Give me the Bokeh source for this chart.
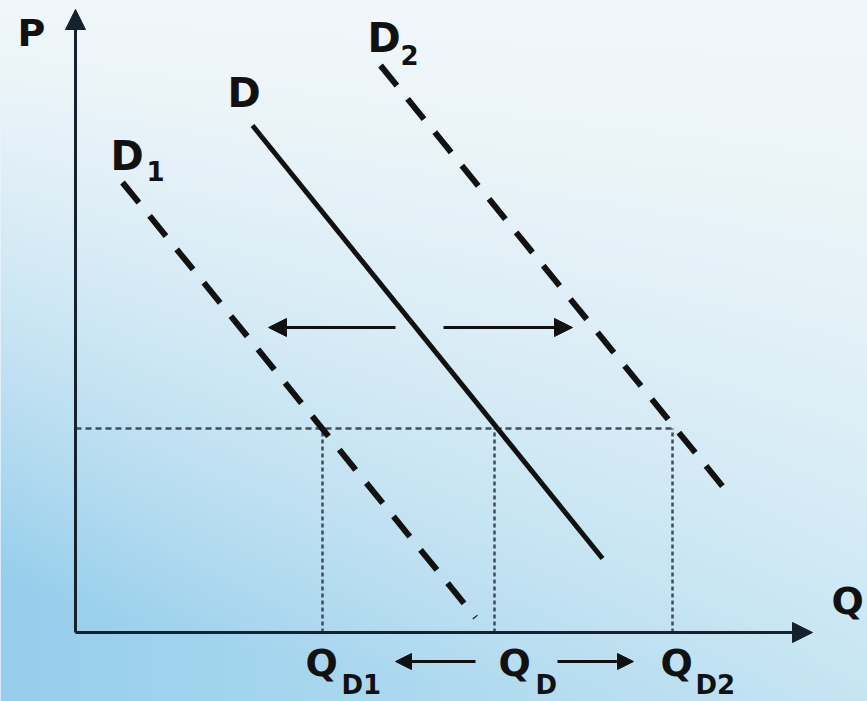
import numpy as np
from bokeh.plotting import figure
from bokeh.models import ColumnDataSource, Arrow, NormalHead, Range1d
from bokeh.core.properties import value
from bokeh.embed import file_html
from bokeh.resources import INLINE

# ---------------- data (arbitrary units) ----------------
P0 = 20.4                        # price level
Q_marks = [24.7, 41.9, 59.7]     # Q_D1, Q_D, Q_D2
D_q = [17.7, 52.7]
D_p = [50.7, 7.4]
D1_q = [4.7, 40.0]
D1_p = [45.0, 1.5]
D2_q = [30.5, 65.7]
D2_p = [56.7, 13.4]
axis_q_max = 73.7
axis_p_max = 62.3
shift_left_q = [32.0, 19.3]
shift_right_q = [36.8, 49.7]
shift_p = 30.5
qshift_left_q = [40.0, 32.0]
qshift_right_q = [48.2, 55.8]
qshift_p = -2.9

main_text = ["P", "Q", "D", "D", "D", "Q", "Q", "Q"]
sub_text = ["1", "2", "D1", "D", "D2"]

# ---------------- layout ----------------
W, H = 867, 701
x0, x1 = -7.5, 79.2
y0, y1 = -6.9, 63.2

main_x = [-5.8, 75.6, 15.2, 3.5, 29.2, 23.0, 42.3, 58.5]
main_y = [60.0, 3.2, 54.0, 47.7, 59.5, -3.0, -3.0, -3.0]
main_size = ["38px", "38px", "40px", "40px", "40px", "38px", "38px", "38px"]
sub_x = [7.1, 32.5, 26.6, 46.0, 62.0]
sub_y = [46.2, 57.8, -5.2, -5.2, -5.2]

FONT = value("DejaVu Sans")
INK = "#111111"
AXIS = "#15222e"
GUIDE = "#3f4e5a"

p = figure(width=W, height=H, x_range=Range1d(x0, x1), y_range=Range1d(y0, y1),
           output_backend="svg", toolbar_location=None,
           x_axis_location=None, y_axis_location=None, min_border=0)
p.grid.visible = False
p.outline_line_color = None
p.background_fill_color = "#d8ebf5"
p.border_fill_color = "#d8ebf5"

# background gradient (decoration)
rows, cols = 351, 434
yf = np.linspace(1.0, 0.0, rows)[:, None]   # 0 at top, 1 at bottom
xf = np.linspace(0.0, 1.0, cols)[None, :]
top = np.array([241, 247, 250], dtype=float)
bl = np.array([150, 206, 236], dtype=float)
br = np.array([198, 229, 243], dtype=float)
bottom = bl[None, None, :] * (1 - xf[..., None]) + br[None, None, :] * xf[..., None]
w = np.clip(yf ** 1.5 + 0.3 * (1 - xf) ** 3 * yf, 0, 1)[..., None]
col = top[None, None, :] * (1 - w) + bottom * w
img = np.empty((rows, cols), dtype=np.uint32)
view = img.view(dtype=np.uint8).reshape((rows, cols, 4))
view[..., 0] = col[..., 0].astype(np.uint8)
view[..., 1] = col[..., 1].astype(np.uint8)
view[..., 2] = col[..., 2].astype(np.uint8)
view[..., 3] = 255
p.image_rgba(image=[img], x=x0, y=y0, dw=x1 - x0, dh=y1 - y0)

# guide lines (dotted)
p.line([0, Q_marks[2]], [P0, P0], line_color=GUIDE, line_width=2.5, line_dash="6 4")
for q in Q_marks:
    p.line([q, q], [0, P0], line_color=GUIDE, line_width=2.5, line_dash="4 3")

# demand curves
p.line(D_q, D_p, line_color=INK, line_width=5)
p.line(D1_q, D1_p, line_color=INK, line_width=6, line_dash="26 17")
p.line(D2_q, D2_p, line_color=INK, line_width=6, line_dash="26 17")

# axes with arrows
p.add_layout(Arrow(x_start=0, y_start=0, x_end=0, y_end=axis_p_max, line_color=AXIS, line_width=3,
                   end=NormalHead(size=20, fill_color=AXIS, line_color=AXIS, line_width=1)))
p.add_layout(Arrow(x_start=0, y_start=0, x_end=axis_q_max, y_end=0, line_color=AXIS, line_width=3,
                   end=NormalHead(size=20, fill_color=AXIS, line_color=AXIS, line_width=1)))

# shift arrows
for qs, pl, sz in [(shift_left_q, shift_p, 18), (shift_right_q, shift_p, 18),
                   (qshift_left_q, qshift_p, 16), (qshift_right_q, qshift_p, 16)]:
    p.add_layout(Arrow(x_start=qs[0], y_start=pl, x_end=qs[1], y_end=pl, line_color=INK, line_width=3,
                       end=NormalHead(size=sz, fill_color=INK, line_color=INK, line_width=1)))

# labels
msrc = ColumnDataSource(dict(x=main_x, y=main_y, text=main_text, size=main_size))
p.text(x="x", y="y", text="text", source=msrc, text_font=FONT, text_font_style="bold",
       text_font_size="size", text_color=INK, text_align="left", text_baseline="alphabetic")
ssrc = ColumnDataSource(dict(x=sub_x, y=sub_y, text=sub_text))
p.text(x="x", y="y", text="text", source=ssrc, text_font=FONT, text_font_style="bold",
       text_font_size=value("26px"), text_color=INK, text_align="left", text_baseline="alphabetic")

open("out.html", "w").write(file_html(p, INLINE))
